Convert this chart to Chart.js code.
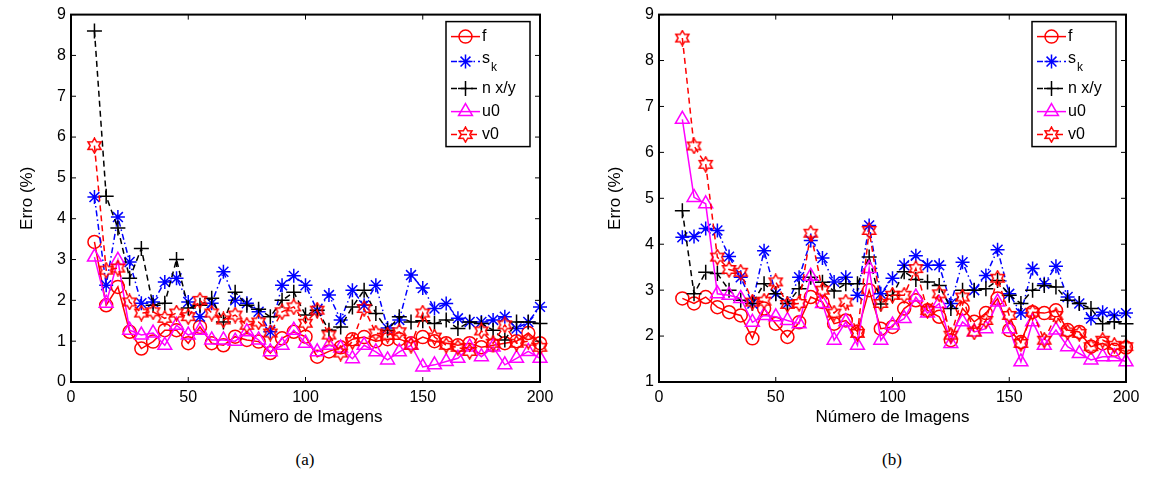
<!DOCTYPE html>
<html>
<head>
<meta charset="utf-8">
<script src="https://cdn.jsdelivr.net/npm/chart.js@4.4.1/dist/chart.umd.min.js"></script>
<style>
body{margin:0;background:#fff;width:1149px;height:477px;position:relative;overflow:hidden}
canvas{position:absolute;top:0}
#ca{left:16px}
#cb{left:604px}
.cap{position:absolute;top:450px;font:17px "Liberation Serif",serif;transform:translateX(-50%)}
</style>
</head>
<body>
<canvas id="ca" width="560" height="432"></canvas>
<canvas id="cb" width="545" height="432"></canvas>
<div class="cap" style="left:305px">(a)</div>
<div class="cap" style="left:892px">(b)</div>
<script>
// numero de imagens (eixo x)
var numImagens = [10,15,20,25,30,35,40,45,50,55,60,65,70,75,80,85,90,95,100,105,110,115,120,125,130,135,140,145,150,155,160,165,170,175,180,185,190,195,200];
var xTicks = [0,50,100,150,200];

// (a)
var fA   = [3.43,1.88,2.33,1.23,0.82,0.99,1.27,1.27,0.95,1.35,0.95,0.9,1.11,1.03,0.99,0.71,1.07,1.23,1.11,0.62,0.75,0.85,1.05,1.1,1.0,1.05,1.05,0.95,1.1,1.0,0.95,0.9,0.95,0.85,0.9,0.95,1.0,1.2,0.95];
var skA  = [4.53,2.37,4.04,2.94,1.93,1.96,2.45,2.54,1.96,1.6,1.93,2.7,2.0,1.93,1.72,1.23,2.37,2.6,2.37,1.75,2.13,1.52,2.25,1.88,2.37,1.32,1.52,2.62,2.3,1.8,1.92,1.56,1.47,1.47,1.52,1.6,1.31,1.47,1.84];
var nxyA = [8.6,4.55,3.77,2.54,3.27,1.88,1.93,3.0,1.81,1.88,2.05,1.47,2.2,1.88,1.78,1.6,2.0,2.2,1.64,1.76,1.27,1.35,1.84,2.25,1.68,1.27,1.6,1.47,1.5,1.43,1.52,1.31,1.47,1.43,1.27,1.03,1.47,1.47,1.43];
var u0A  = [3.06,1.93,2.98,1.27,1.15,1.2,0.9,1.39,1.15,1.27,1.03,1.03,1.0,1.23,1.03,0.74,0.9,1.27,0.95,0.74,0.9,0.83,0.57,0.9,0.74,0.54,0.74,0.9,0.37,0.42,0.5,0.58,0.86,0.62,0.86,0.42,0.58,0.75,0.58];
var v0A  = [5.79,2.74,2.79,1.96,1.69,1.72,1.56,1.69,1.6,2.0,1.69,1.52,1.64,1.39,1.47,1.2,1.72,1.84,1.44,1.76,1.15,0.71,0.99,1.8,1.2,1.15,1.23,0.9,1.69,1.1,0.9,0.85,0.75,1.25,0.95,1.4,0.95,1.0,0.85];
var yTicksA = [0,1,2,3,4,5,6,7,8,9];

// (b)
var fB   = [2.82,2.71,2.85,2.63,2.52,2.45,1.95,2.6,2.27,1.98,2.3,2.85,2.74,2.27,2.34,2.1,3.0,2.16,2.2,2.6,2.78,2.56,2.42,1.91,2.6,2.31,2.5,2.82,2.13,1.87,2.52,2.5,2.56,2.13,2.09,1.77,1.84,1.7,1.75];
var skB  = [4.15,4.17,4.34,4.3,3.73,3.28,2.71,3.86,2.92,2.71,3.28,4.08,3.7,3.18,3.28,2.89,4.41,2.92,3.26,3.54,3.75,3.54,3.54,2.71,3.61,3.0,3.32,3.88,2.92,2.5,3.47,3.14,3.52,2.85,2.71,2.38,2.52,2.45,2.5];
var nxyB = [4.73,2.92,3.39,3.36,3.0,2.78,2.71,3.14,2.92,2.71,3.03,3.28,3.17,2.98,3.14,3.14,3.72,2.7,2.89,3.4,3.23,3.18,3.1,2.6,3.0,3.0,3.03,3.21,2.89,2.71,3.0,3.1,3.07,2.78,2.71,2.6,2.27,2.31,2.27];
var u0B  = [6.72,5.02,4.88,2.92,2.89,2.82,2.3,2.45,2.42,2.34,2.27,3.3,2.71,1.91,2.31,1.8,3.47,1.91,2.24,2.38,2.85,2.5,2.71,1.84,2.31,2.09,2.16,2.74,2.16,1.44,2.31,1.8,2.13,1.77,1.62,1.48,1.55,1.55,1.44];
var v0B  = [8.49,6.14,5.74,3.72,3.45,3.39,2.74,2.76,3.18,2.69,2.71,4.24,3.0,2.5,2.74,2.06,4.3,2.71,2.89,2.89,3.47,2.56,2.92,2.02,2.85,2.09,2.34,3.26,2.45,1.84,2.52,1.91,2.45,2.09,2.06,1.77,1.91,1.8,1.77];
var yTicksB = [1,2,3,4,5,6,7,8,9];

var legendLabels = ['f', 's_k', 'n x/y', 'u0', 'v0'];

Chart.defaults.font.family = '"Liberation Sans", Arial, sans-serif';
Chart.defaults.color = '#000';

// hexagrama (marcador 'h' do matlab)
function hexagram(color) {
  var c = document.createElement('canvas');
  c.width = 17; c.height = 17;
  var g = c.getContext('2d');
  g.strokeStyle = color; g.lineWidth = 1.5;
  g.beginPath();
  for (var i = 0; i < 12; i++) {
    var r = (i % 2 == 0) ? 7.5 : 4.3;
    var a = -Math.PI / 2 + i * Math.PI / 6;
    var px = 8.5 + r * Math.cos(a), py = 8.5 + r * Math.sin(a);
    if (i == 0) g.moveTo(px, py); else g.lineTo(px, py);
  }
  g.closePath();
  g.stroke();
  return c;
}
var hexRed = hexagram('#ff0000');

function pts(ys) {
  return numImagens.map(function (x, i) { return {x: x, y: ys[i]}; });
}

function series(f, sk, nxy, u0, v0) {
  return [
    {label: 'f', data: pts(f), borderColor: '#ff0000', pointStyle: 'circle', pointRadius: 6.5, order: 5},
    {label: 's_k', data: pts(sk), borderColor: '#0000ff', borderDash: [6, 3, 1.5, 3], pointStyle: 'star', pointRadius: 7, order: 4},
    {label: 'n x/y', data: pts(nxy), borderColor: '#000000', borderDash: [6, 4], pointStyle: 'cross', pointRadius: 7.5, order: 3},
    {label: 'u0', data: pts(u0), borderColor: '#ff00ff', pointStyle: 'triangle', pointRadius: 8, order: 2},
    {label: 'v0', data: pts(v0), borderColor: '#ff0000', borderDash: [6, 4], pointStyle: hexRed, pointRadius: 8, order: 1}
  ].map(function (d) {
    d.borderWidth = 1.5;
    d.pointBorderColor = d.borderColor;
    d.pointBackgroundColor = 'rgba(0,0,0,0)';
    d.pointBorderWidth = 1.5;
    d.fill = false;
    d.tension = 0;
    d.clip = false;
    return d;
  });
}

// moldura, ticks para dentro e legenda estilo matlab
var framePlugin = {
  id: 'frame',
  afterDraw: function (chart) {
    var ctx = chart.ctx, a = chart.chartArea, sx = chart.scales.x, sy = chart.scales.y;
    ctx.save();
    ctx.strokeStyle = '#000';
    ctx.lineWidth = 1;
    ctx.beginPath();
    sx.ticks.forEach(function (t) {
      var p = sx.getPixelForValue(t.value);
      ctx.moveTo(p, a.bottom); ctx.lineTo(p, a.bottom - 5);
      ctx.moveTo(p, a.top); ctx.lineTo(p, a.top + 5);
    });
    sy.ticks.forEach(function (t) {
      var p = sy.getPixelForValue(t.value);
      ctx.moveTo(a.left, p); ctx.lineTo(a.left + 5, p);
      ctx.moveTo(a.right, p); ctx.lineTo(a.right - 5, p);
    });
    ctx.stroke();
    ctx.lineWidth = 2;
    ctx.strokeRect(a.left, a.top, a.right - a.left, a.bottom - a.top);

    // legenda
    var bw = 84, bh = 125;
    var bx = a.right - 10 - bw, by = a.top + 7;
    ctx.fillStyle = '#fff';
    ctx.fillRect(bx, by, bw, bh);
    ctx.lineWidth = 1.5;
    ctx.strokeRect(bx, by, bw, bh);
    var rows = [15, 40, 67, 90, 113];
    chart.data.datasets.forEach(function (d, i) {
      var y = by + rows[i];
      ctx.strokeStyle = d.borderColor;
      ctx.lineWidth = 1.5;
      ctx.setLineDash(d.borderDash || []);
      ctx.beginPath();
      ctx.moveTo(bx + 5, y); ctx.lineTo(bx + 34, y);
      ctx.stroke();
      ctx.setLineDash([]);
      ctx.fillStyle = 'rgba(0,0,0,0)';
      Chart.helpers.drawPoint(ctx, {pointStyle: d.pointStyle, radius: d.pointRadius, rotation: 0, borderWidth: 1.5}, bx + 19.5, y);
      ctx.fillStyle = '#000';
      ctx.textBaseline = 'middle';
      ctx.textAlign = 'left';
      var lbl = legendLabels[i];
      if (lbl == 's_k') {
        ctx.font = '16px "Liberation Sans", Arial, sans-serif';
        ctx.fillText('s', bx + 36, y - 3);
        ctx.font = '12px "Liberation Sans", Arial, sans-serif';
        ctx.fillText('k', bx + 45, y + 6);
      } else {
        ctx.font = '16px "Liberation Sans", Arial, sans-serif';
        ctx.fillText(lbl, bx + 36, y);
      }
    });
    ctx.restore();
  }
};

function makeChart(id, datasets, yTicks, padRight) {
  return new Chart(document.getElementById(id), {
    type: 'line',
    data: {datasets: datasets},
    options: {
      responsive: false,
      animation: false,
      layout: {padding: {top: 14, right: padRight, left: 0, bottom: 0}},
      plugins: {legend: {display: false}, tooltip: {enabled: false}},
      scales: {
        x: {
          type: 'linear', min: xTicks[0], max: xTicks[xTicks.length - 1],
          afterBuildTicks: function (s) { s.ticks = xTicks.map(function (v) { return {value: v}; }); },
          ticks: {font: {size: 16}, color: '#000', padding: 6, maxRotation: 0},
          grid: {display: false, drawTicks: false},
          border: {display: false},
          title: {display: true, text: 'Número de Imagens', font: {size: 17}, color: '#000', padding: {top: 0, bottom: 4}},
          afterFit: function (s) { s.height = 50; }
        },
        y: {
          min: yTicks[0], max: yTicks[yTicks.length - 1],
          afterBuildTicks: function (s) { s.ticks = yTicks.map(function (v) { return {value: v}; }); },
          ticks: {font: {size: 16}, color: '#000', padding: 5},
          grid: {display: false, drawTicks: false},
          border: {display: false},
          title: {display: true, text: 'Erro (%)', font: {size: 17}, color: '#000', padding: {top: 1, bottom: 0}},
          afterFit: function (s) { s.width = 55; }
        }
      }
    },
    plugins: [framePlugin]
  });
}

makeChart('ca', series(fA, skA, nxyA, u0A, v0A), yTicksA, 36);
makeChart('cb', series(fB, skB, nxyB, u0B, v0B), yTicksB, 23);
</script>
</body>
</html>
